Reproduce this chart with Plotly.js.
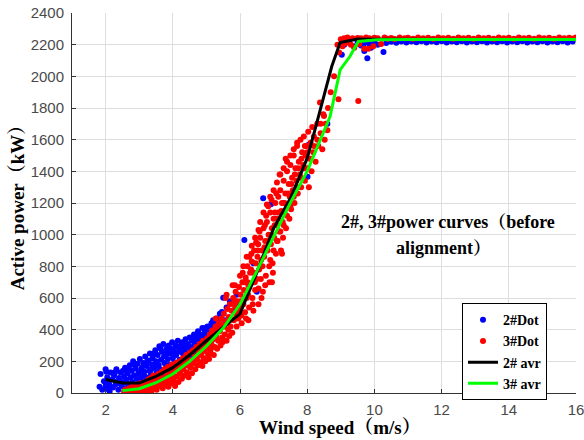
<!DOCTYPE html>
<html>
<head>
<meta charset="utf-8">
<script src="https://cdn.plot.ly/plotly-3.0.1.min.js"></script>
<style>html,body{margin:0;padding:0;background:#fff;}#chart{width:584px;height:440px;}</style>
</head>
<body>
<div id="chart"></div>
<script>
// ---- data ----
const xTicks = [2, 4, 6, 8, 10, 12, 14, 16];
const yTicks = [0, 200, 400, 600, 800, 1000, 1200, 1400, 1600, 1800, 2000, 2200, 2400];

const blueX = [1.85,1.9,1.95,2.0,2.02,2.05,2.1,2.12,2.15,2.2,2.22,2.25,2.3,2.32,2.35,2.38,2.4,2.45,2.48,2.5,2.55,2.58,2.6,2.63,2.65,2.7,2.72,2.75,2.78,2.8,2.82,2.85,2.88,2.9,2.93,2.95,2.98,3.0,3.02,3.05,3.08,3.1,3.12,3.15,3.18,3.2,3.22,3.25,3.28,3.3,3.32,3.35,3.38,3.4,3.42,3.45,3.48,3.5,3.52,3.55,3.58,3.6,3.62,3.65,3.68,3.7,3.72,3.75,3.78,3.8,3.82,3.85,3.88,3.9,3.93,3.95,3.98,4.0,4.03,4.05,4.08,4.1,4.13,4.15,4.18,4.2,4.23,4.25,4.28,4.3,4.33,4.35,4.38,4.4,4.43,4.45,4.48,4.5,4.53,4.55,4.58,4.6,4.63,4.65,4.68,4.7,4.73,4.75,4.78,4.8,4.83,4.85,4.88,4.9,4.93,4.95,5.0,5.03,5.05,5.1,5.15,5.2,5.25,5.3,5.35,5.4,5.46,5.5,5.55,5.6,5.7,5.8,5.9,6.0,6.13,6.2,6.4,6.5,6.69,6.92,7.1,7.3,8.01,8.03,8.6,9.03,9.1,9.25,9.4,9.5,9.6,9.67,9.7,9.75,9.79,9.85,9.9,10.0,10.1,10.27,10.35,10.5,10.65,10.8,10.95,11.1,11.25,11.4,11.55,11.7,11.85,12.0,12.15,12.3,12.45,12.6,12.75,12.9,13.05,13.2,13.35,13.5,13.65,13.8,13.95,14.1,14.25,14.4,14.55,14.7,14.85,15.0,15.15,15.3,15.45,15.6,15.75,15.9,
2.62,2.68,2.76,2.86,2.96,3.06,3.14,3.24,3.36,3.44,3.54,3.64,3.74,3.84,3.94,4.06,4.16,4.26,4.36,4.46,4.56,4.66,4.76,4.86,4.96,5.06,5.16,5.26,5.36,2.05,2.28,2.42,2.52,1.82,2.0,2.15];
const blueY = [120,20,75,45,135,100,60,10,130,85,35,110,55,150,75,20,95,130,45,70,105,160,30,85,125,55,175,100,140,70,200,110,40,155,90,185,130,60,215,105,160,80,190,135,230,100,170,60,205,140,250,115,180,220,90,160,270,200,130,240,175,295,150,210,260,120,310,190,240,160,280,215,300,180,250,140,320,220,270,190,300,240,160,330,260,210,290,180,320,250,280,220,340,270,200,310,250,350,290,230,330,270,370,310,250,350,290,390,330,270,370,310,410,350,290,380,330,420,360,400,440,460,380,470,420,500,512,601,460,540,580,520,620,560,966,700,820,640,1230,1192,1100,1200,1366,1567,1700,2136,2200,2215,2190,2220,2195,2200,2160,2215,2115,2205,2180,2215,2200,2153,2210,2218,2212,2220,2214,2220,2215,2221,2214,2220,2216,2221,2214,2220,2215,2221,2214,2220,2216,2221,2214,2220,2215,2221,2214,2220,2216,2221,2214,2220,2215,2221,2214,2220,2216,2221,2214,2220,
65,150,30,175,100,140,110,200,150,250,180,280,230,250,280,250,290,310,300,280,340,330,360,340,410,390,420,430,450,25,130,60,140,40,150,40];

const redX = [2.55,2.6,2.62,2.68,2.7,2.66,
2.72,2.75,2.78,2.8,2.82,2.85,2.88,2.9,
2.92,2.95,2.97,3.0,3.02,3.05,3.07,3.1,
3.12,3.15,3.17,3.2,3.22,3.25,3.27,3.3,
3.32,3.35,3.37,3.4,3.42,3.45,3.47,3.5,
3.52,3.55,3.57,3.6,3.62,3.65,3.67,3.7,
3.72,3.75,3.77,3.8,3.82,3.85,3.87,3.9,
3.92,3.95,3.97,4.0,4.02,4.05,4.07,4.1,
4.12,4.15,4.17,4.2,4.22,4.25,4.27,4.3,
4.32,4.35,4.37,4.4,4.42,4.45,4.47,4.5,
4.52,4.55,4.57,4.6,4.62,4.65,4.67,4.7,
4.72,4.75,4.77,4.8,4.82,4.85,4.87,4.9,4.88,
4.92,4.95,4.97,5.0,5.02,5.05,5.07,5.1,5.08,
5.12,5.15,5.17,5.2,5.22,5.25,5.27,5.3,5.28,
5.32,5.35,5.37,5.4,5.42,5.45,5.47,5.5,5.48,
5.52,5.55,5.57,5.6,5.62,5.65,5.67,5.7,5.68,5.58,
5.72,5.75,5.77,5.8,5.82,5.85,5.87,5.9,5.88,5.78,
5.92,5.95,5.97,6.0,6.02,6.05,6.07,6.1,6.08,6.04,
6.12,6.15,6.17,6.2,6.22,6.25,6.27,6.3,6.28,6.18,6.24,
6.32,6.35,6.37,6.4,6.42,6.45,6.47,6.5,6.48,6.38,6.44,6.34,
6.52,6.55,6.57,6.6,6.62,6.65,6.67,6.7,6.68,6.58,6.54,6.64,
6.72,6.75,6.77,6.8,6.82,6.85,6.87,6.9,6.88,6.78,6.74,6.84,
6.92,6.95,6.97,7.0,7.02,7.05,7.07,7.1,7.08,6.98,7.04,6.94,
7.12,7.15,7.17,7.2,7.22,7.25,7.27,7.3,7.28,7.18,7.14,
7.32,7.35,7.37,7.4,7.42,7.45,7.47,7.5,7.48,7.36,
7.52,7.55,7.57,7.6,7.62,7.65,7.68,7.7,
7.72,7.75,7.78,7.8,7.82,7.85,7.88,
7.9,7.93,7.95,7.98,8.0,8.03,8.05,8.08,
8.1,8.13,8.15,8.18,8.2,8.25,
8.3,8.33,8.38,8.4,8.45,8.48,
8.52,8.55,8.6,8.62,8.7,8.8,8.93,8.9,8.95,
9.0,9.05,9.1,9.15,9.2,9.3,9.35,9.4,9.52,9.5,9.55,9.6,9.7,9.75,9.82,9.85,9.97,10.0,
10.1,10.2,10.3,10.4,10.5,10.6,10.75,10.9,11.0,11.15,11.3,11.45,11.6,11.75,11.9,12.05,12.2,12.35,12.5,12.65,12.8,12.95,13.1,13.25,13.4,13.55,13.7,13.85,14.0,14.15,14.3,14.45,14.6,14.75,14.9,15.05,15.2,15.35,15.5,15.65,15.8,15.95,16.0,
2.58,2.64,2.74,2.84,2.94,3.04,3.14,3.24,3.34,3.44,3.54,3.64,3.74,3.84,3.94,4.04,4.14,4.24,4.34,4.44,4.54,4.64,4.74,4.84,4.94,5.04,5.14,5.24,5.34,5.44,5.54,5.64,5.74,5.84,5.94,6.03,6.13,6.23,6.33,6.43,6.53,6.63,6.73,6.83,6.93,7.03,7.13,7.23,7.33,7.43,7.53,7.63,7.73,7.83,7.93,
5.6,5.85,6.0,6.1,6.2,6.35,6.45,6.55,6.6,6.7,6.8,6.9,7.0,7.1,7.2,7.3,7.4,7.5,7.6,7.7,
6.9,7.0,7.1,7.2,7.3,7.4,7.5,7.6,7.7,7.8,7.9,8.0,8.1,8.2,8.3,8.4,8.5,
6.55,6.75,6.95,7.25,6.25,6.4];
const redY = [10,22,5,18,30,8,
12,28,40,5,20,35,15,48,
8,25,55,15,40,62,5,30,
50,18,70,35,8,60,85,25,
45,95,15,70,110,35,55,90,
20,75,120,45,100,60,135,30,
85,150,50,110,70,165,40,130,
95,60,180,120,75,150,45,190,
105,140,70,200,125,165,90,220,
150,110,190,240,130,175,100,255,
160,205,125,270,185,230,150,290,
210,175,255,310,195,240,280,330,170,
220,265,200,300,345,240,280,370,215,
260,310,395,340,240,290,420,360,470,
280,330,440,390,300,470,350,420,320,
500,370,450,330,530,400,480,560,360,600,
420,520,380,600,460,550,640,420,500,680,
580,470,670,530,620,440,700,560,760,490,
650,510,730,600,800,680,540,760,860,470,620,
690,830,600,760,900,650,820,720,950,560,700,880,
860,660,780,980,720,900,800,1040,640,1020,940,600,
860,960,740,1080,900,1000,800,1140,700,1120,1060,1180,
940,1040,820,1100,980,1200,880,1060,1260,760,1140,1220,
960,1140,1020,1280,900,1200,1080,1340,980,1380,1240,
1140,1260,1040,1400,1180,1320,1100,1440,1240,1480,
1160,1360,1280,1500,1200,1420,1340,1560,
1260,1460,1380,1600,1300,1520,1440,
1620,1340,1500,1560,1420,1650,1300,1480,
1580,1400,1680,1520,1620,1460,
1700,1560,1834,1640,1540,1760,
1600,1700,1660,1800,1900,2000,1856,2200,2150,
2235,2190,2240,2210,2245,2200,2240,2180,1845,2242,2205,2240,2175,2245,2174,2240,2190,2243,
2240,2205,2245,2238,2242,2236,2245,2240,2244,2238,2246,2240,2243,2237,2245,2240,2244,2238,2246,2240,2243,2238,2245,2240,2244,2238,2246,2240,2243,2238,2245,2240,2244,2238,2246,2240,2243,2238,2245,2240,2244,2240,2246,
18,12,20,10,38,22,40,20,60,80,50,85,65,95,120,100,165,145,175,215,185,210,235,260,300,320,285,370,400,430,420,460,470,580,520,580,700,700,780,760,900,840,920,960,1000,1060,1100,1150,1200,1260,1320,1380,1420,1480,1560,
620,680,740,800,860,930,980,1030,1080,1140,1190,1240,1280,1330,1380,1420,1460,1500,1540,1580,
840,900,960,1020,1060,1120,1180,1240,1300,1360,1420,1520,1480,1560,1600,1700,1750,
560,680,700,880,460,520];

const avg2X = [2,2.5,3,3.5,4,4.5,5,5.5,6,6.5,7,7.5,8,8.23,8.73,8.98,9.5,10,11,12,13,14,15,16];
const avg2Y = [85,63,63,105,160,240,330,415,500,760,1040,1230,1483,1662,2062,2214,2236,2234,2233,2233,2232,2232,2232,2233];
const avg3X = [2.5,3,3.5,4,4.5,5,5.5,6,6.5,7,7.49,8,8.48,8.68,8.98,9.27,9.52,10.07,11,12,13,14,15,16];
const avg3Y = [15,27,65,120,200,295,410,560,770,990,1198,1400,1641,1746,2041,2125,2220,2231,2232,2232,2232,2232,2232,2233];

const serif = '"Liberation Serif", "Times New Roman", "Noto Serif CJK SC", serif';
const sans = '"Liberation Sans", Arial, sans-serif';

const traces = [
  {x: blueX, y: blueY, name: '<b>2#Dot</b>', type: 'scatter', mode: 'markers',
   marker: {color: '#0000ff', size: 6}},
  {x: redX, y: redY, name: '<b>3#Dot</b>', type: 'scatter', mode: 'markers',
   marker: {color: '#ff0000', size: 6}},
  {x: avg2X, y: avg2Y, name: '<b>2# avr</b>', type: 'scatter', mode: 'lines',
   line: {color: '#000000', width: 3}},
  {x: avg3X, y: avg3Y, name: '<b>3# avr</b>', type: 'scatter', mode: 'lines',
   line: {color: '#00ff00', width: 3}}
];

const PX = (px) => (px - 72) / 504;          // pixel -> paper x
const PY = (py) => (392.7 - py) / 379.4;     // pixel -> paper y

const layout = {
  width: 584, height: 440,
  margin: {l: 72, r: 8, t: 13, b: 47},
  paper_bgcolor: '#ffffff', plot_bgcolor: '#ffffff',
  showlegend: true,
  legend: {x: PX(462), y: PY(303), xanchor: 'left', yanchor: 'top',
    bgcolor: '#ffffff', bordercolor: '#000000', borderwidth: 1,
    font: {family: serif, size: 14, color: '#000'}, tracegroupgap: 0},
  xaxis: {
    range: [1, 16], tickvals: xTicks, ticktext: xTicks.map(String),
    showgrid: true, gridcolor: '#dedede', gridwidth: 1, zeroline: false,
    showline: true, linecolor: '#333333', linewidth: 1,
    ticks: 'inside', ticklen: 4, tickcolor: '#333333', ticklabelstandoff: 3,
    ticklabeloverflow: 'allow',
    tickfont: {family: sans, size: 15, color: '#4a4a4a'}
  },
  yaxis: {
    range: [0, 2400], tickvals: yTicks, ticktext: yTicks.map(String),
    showgrid: true, gridcolor: '#dedede', gridwidth: 1, zeroline: false,
    showline: true, linecolor: '#333333', linewidth: 1,
    ticks: 'inside', ticklen: 4, tickcolor: '#333333', ticklabelstandoff: 4,
    tickfont: {family: sans, size: 15, color: '#4a4a4a'},
    title: {text: '<b>Active power（kW）</b>', font: {family: serif, size: 19, color: '#000'}, standoff: 0}
  },
  annotations: [
    {xref: 'paper', yref: 'paper', x: PX(340), y: PY(439),
     text: '<b>Wind speed（m/s）</b>', showarrow: false, xanchor: 'center', yanchor: 'bottom',
     font: {family: serif, size: 19, color: '#000'}, borderpad: 0},
    {xref: 'paper', yref: 'paper', x: PX(448), y: PY(222),
     text: '<b>2#, 3#power curves（before</b>', showarrow: false, xanchor: 'center', yanchor: 'middle',
     font: {family: serif, size: 18, color: '#000'}},
    {xref: 'paper', yref: 'paper', x: PX(443), y: PY(248),
     text: '<b>alignment）</b>', showarrow: false, xanchor: 'center', yanchor: 'middle',
     font: {family: serif, size: 18, color: '#000'}}
  ]
};

Plotly.newPlot('chart', traces, layout, {displayModeBar: false, staticPlot: true});
</script>
</body>
</html>
